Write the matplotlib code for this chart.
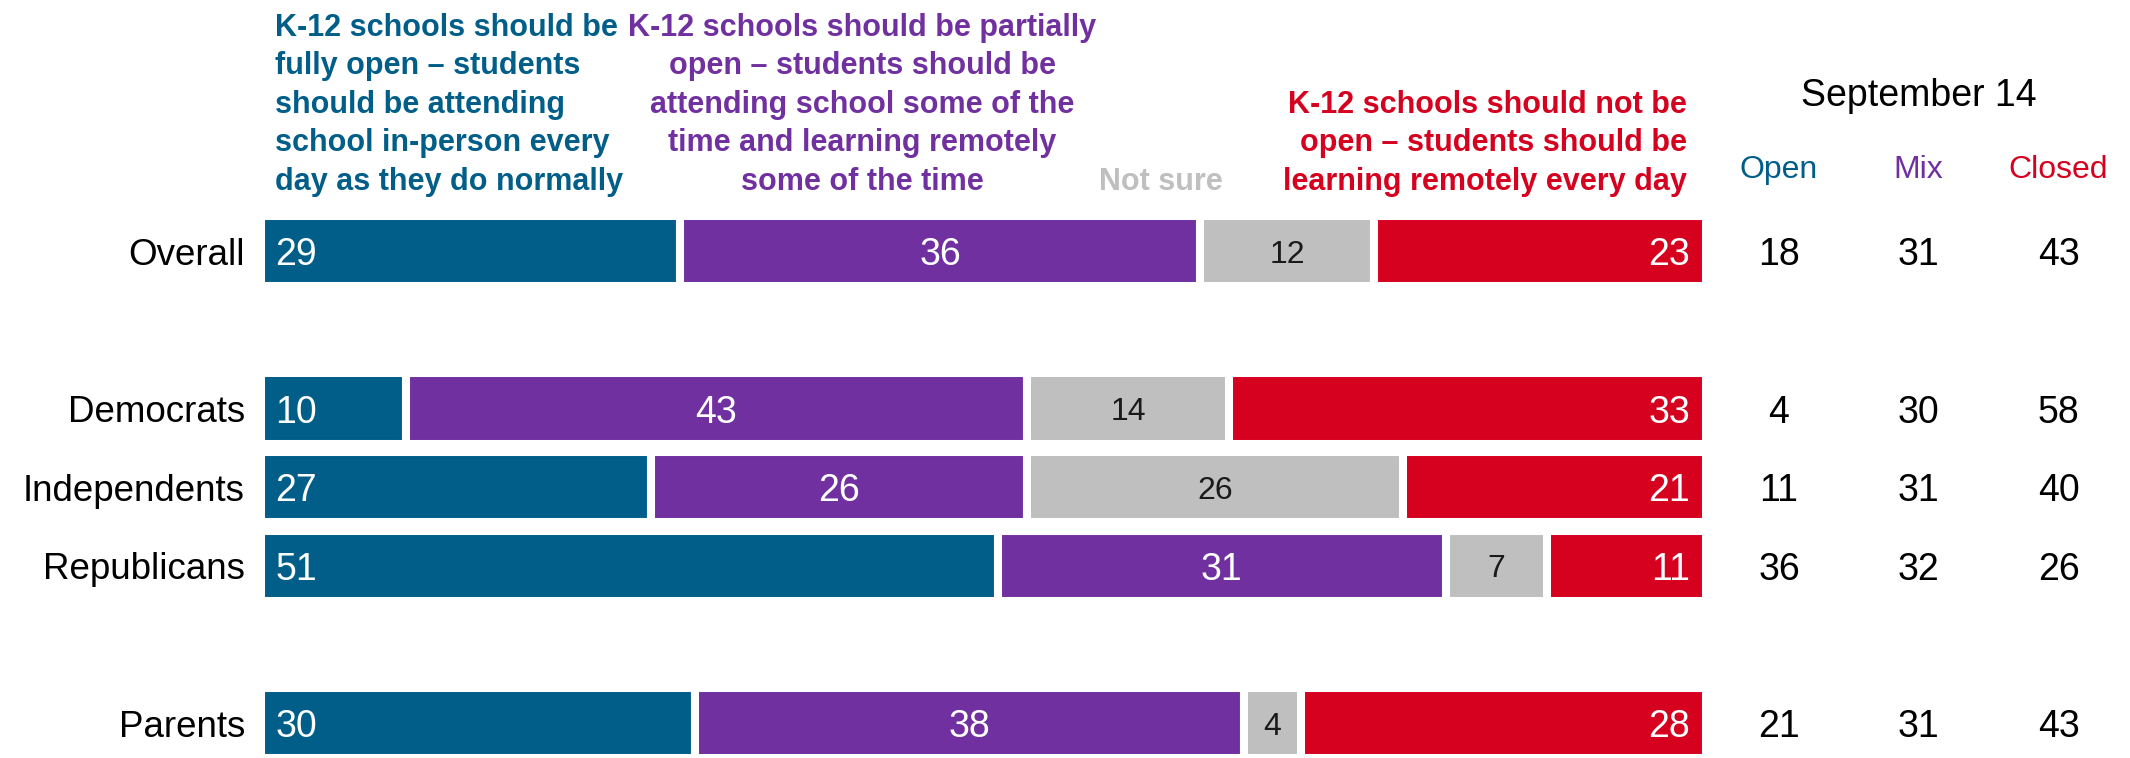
import numpy as np
import matplotlib
matplotlib.use("Agg")
import matplotlib.pyplot as plt
from matplotlib import font_manager

# pick a narrow font if we have one
def pick_font(names):
    for n in names:
        try:
            font_manager.findfont(n, fallback_to_default=False)
            return n
        except Exception:
            pass
    return "DejaVu Sans"

FONT = pick_font(["Liberation Sans Narrow", "Liberation Sans", "DejaVu Sans"])
plt.rcParams["font.family"] = [FONT, "DejaVu Sans"]

# data
groups = ["Overall", "Democrats", "Independents", "Republicans", "Parents"]
ypos = [0, 2, 3, 4, 6]
open_vals = [29, 10, 27, 51, 30]
mix_vals = [36, 43, 26, 31, 38]
notsure_vals = [12, 14, 26, 7, 4]
closed_vals = [23, 33, 21, 11, 28]

sep_open = [18, 4, 11, 36, 21]
sep_mix = [31, 30, 31, 32, 31]
sep_closed = [43, 58, 40, 26, 43]

head_open = ["K-12 schools should be", "fully open \u2013 students", "should be attending",
             "school in-person every", "day as they do normally"]
head_mix = ["K-12 schools should be partially", "open \u2013 students should be",
            "attending school some of the", "time and learning remotely", "some of the time"]
head_closed = ["K-12 schools should not be", "open \u2013 students should be",
               "learning remotely every day"]
col_heads = ["Open", "Mix", "Closed"]

BLUE = "#005E89"
PURPLE = "#7030A0"
GRAY = "#BFBFBF"
RED = "#D6001F"

NUM = 27   # numbers size
HEAD = 22  # heading size

fig = plt.figure(figsize=(21.30, 7.58), dpi=100)
ax = fig.add_axes([261 / 2130, 0, 1445 / 2130, 1])
ax.set_xlim(0, 100)
ax.set_ylim(6.44, -3.19)
ax.axis("off")

series = [open_vals, mix_vals, notsure_vals, closed_vals]
colors = [BLUE, PURPLE, GRAY, RED]
left = np.zeros(len(groups))
for vals, c in zip(series, colors):
    ax.barh(ypos, vals, left=left, height=0.89, color=c, edgecolor="white", linewidth=5.8)
    left += np.array(vals)

# value labels on bars + the september columns
for i, y in enumerate(ypos):
    o, m, n, c = open_vals[i], mix_vals[i], notsure_vals[i], closed_vals[i]
    ax.text(1.0, y, str(o), color="white", fontsize=NUM, ha="left", va="center_baseline")
    ax.text(o + m / 2, y, str(m), color="white", fontsize=NUM, ha="center", va="center_baseline")
    ax.text(o + m + n / 2, y, str(n), color="#1a1a1a", fontsize=23, ha="center", va="center_baseline")
    ax.text(98.9, y, str(c), color="white", fontsize=NUM, ha="right", va="center_baseline")
    ax.text(-1.1, y, groups[i], color="black", fontsize=26.5, ha="right", va="center_baseline")
    ax.text(105.05, y, str(sep_open[i]), fontsize=NUM, ha="center", va="center_baseline")
    ax.text(114.7, y, str(sep_mix[i]), fontsize=NUM, ha="center", va="center_baseline")
    ax.text(124.4, y, str(sep_closed[i]), fontsize=NUM, ha="center", va="center_baseline")

# headings
line_y = [-2.885, -2.395, -1.906, -1.417, -0.928]
for ly, t in zip(line_y, head_open):
    ax.text(1.0, ly, t, color=BLUE, fontsize=HEAD, fontweight="bold", ha="left", va="center_baseline")
for ly, t in zip(line_y, head_mix):
    ax.text(41.6, ly, t, color=PURPLE, fontsize=HEAD, fontweight="bold", ha="center", va="center_baseline")
for ly, t in zip(line_y[2:], head_closed):
    ax.text(98.7, ly, t, color=RED, fontsize=HEAD, fontweight="bold", ha="right", va="center_baseline")
ax.text(62.3, line_y[-1], "Not sure", color=GRAY, fontsize=HEAD, fontweight="bold", ha="center", va="center_baseline")

ax.text(114.7, -2.02, "September 14", fontsize=27, ha="center", va="center_baseline")
for xx, t, c in zip([105.05, 114.7, 124.4], col_heads, [BLUE, PURPLE, RED]):
    ax.text(xx, -1.08, t, color=c, fontsize=23, ha="center", va="center_baseline")

fig.savefig("out.png", dpi=100)
